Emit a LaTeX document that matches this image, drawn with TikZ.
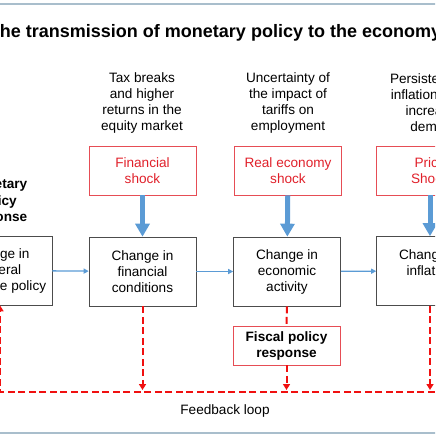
\documentclass[tikz,border=0pt]{standalone}
\usepackage{fontspec}
\setmainfont{Liberation Sans}
\usetikzlibrary{arrows.meta}
\definecolor{shockred}{HTML}{E0202A}
\definecolor{loopred}{HTML}{F01010}
\definecolor{flowblue}{HTML}{5B9BD5}
\definecolor{rulegrey}{HTML}{A9BECC}

\begin{document}
\begin{tikzpicture}[x=1pt,y=-1pt,
  stagebox/.style={draw=black!70, line width=0.6pt, minimum width=107pt, minimum height=69pt, align=center, font=\fontsize{13.6}{16}\selectfont},
  shockbox/.style={draw=shockred!80, line width=0.6pt, minimum width=107pt, minimum height=49pt, align=center, text=shockred, font=\fontsize{13.6}{16}\selectfont},
  note/.style={align=center, font=\fontsize{13.6}{16}\selectfont},
  bigflow/.style={flowblue, line width=5pt, -{Triangle[width=14pt,length=13pt]}},
  smallflow/.style={flowblue, line width=1.3pt, -{Triangle[width=5pt,length=5pt]}},
  feedback/.style={loopred, line width=2pt, dash pattern=on 7pt off 3.5pt}]
\useasboundingbox (0,0) rectangle (435,435);
\clip (0,0) rectangle (435,435);
\draw[rulegrey, line width=1.5pt] (-5,4) -- (440,4);
\draw[rulegrey, line width=2pt] (-5,433) -- (440,433);
\node[font=\fontsize{18}{21}\selectfont\bfseries] (title) at (215,33) {The transmission of monetary policy to the economy};
% notes above the shocks
\node[note] (n1) at (142,103) {Tax breaks\\and higher\\returns in the\\equity market};
\node[note] (n2) at (288,103) {Uncertainty of\\the impact of\\tariffs on\\employment};
\node[note] (n3) at (435,103) {Persistent high\\inflation due to\\increased\\demand};
% shocks
\node[shockbox] (fshock) at (142.5,170.5) {Financial\\shock};
\node[shockbox] (rshock) at (288,170.5) {Real economy\\shock};
\node[shockbox] (pshock) at (430,170.5) {Price\\Shock};
% stages
\node[note, font=\fontsize{13.6}{16.5}\selectfont\bfseries] (mpr) at (-3,202) {Monetary\\policy\\response};
\node[stagebox] (rate) at (-1.5,270.5) {Change in\\general\\base rate policy};
\node[stagebox] (fin) at (142.5,271.5) {Change in\\financial\\conditions};
\node[stagebox] (eco) at (287,271.5) {Change in\\economic\\activity};
\node[stagebox] (infl) at (430,271) {Change in\\inflation\\};
\node[draw=shockred!80, line width=0.6pt, minimum width=107pt, minimum height=39pt, align=center, font=\fontsize{13.6}{16}\selectfont\bfseries] (fiscal) at (286.5,345.5) {Fiscal policy\\response};
\draw[bigflow] (fshock) -- (fin);
\draw[bigflow] (rshock) -- (eco);
\draw[bigflow] (pshock) -- (infl);
\draw[smallflow] (rate) -- (fin);
\draw[smallflow] (fin) -- (eco);
\draw[smallflow] (eco) -- (infl);
% feedback loop
\coordinate (loopR) at (445,392);
\coordinate (loopL) at (0,392);
\draw[feedback, -{Triangle[width=7pt,length=6pt]}] (fin.south) -- (fin.south |- 0,390);
\draw[feedback] (eco.south) -- (fiscal.north);
\draw[feedback, -{Triangle[width=7pt,length=6pt]}] (fiscal.south) -- (fiscal.south |- 0,390);
\draw[feedback, -{Triangle[width=7pt,length=6pt]}] (infl.south) -- (infl.south |- 0,390);
\draw[feedback, -{Triangle[width=7pt,length=6pt]}] (loopR) -- (loopL) -- (loopL |- rate.south);
\node[note] (floop) at (225,411) {Feedback loop};
\end{tikzpicture}
\end{document}
